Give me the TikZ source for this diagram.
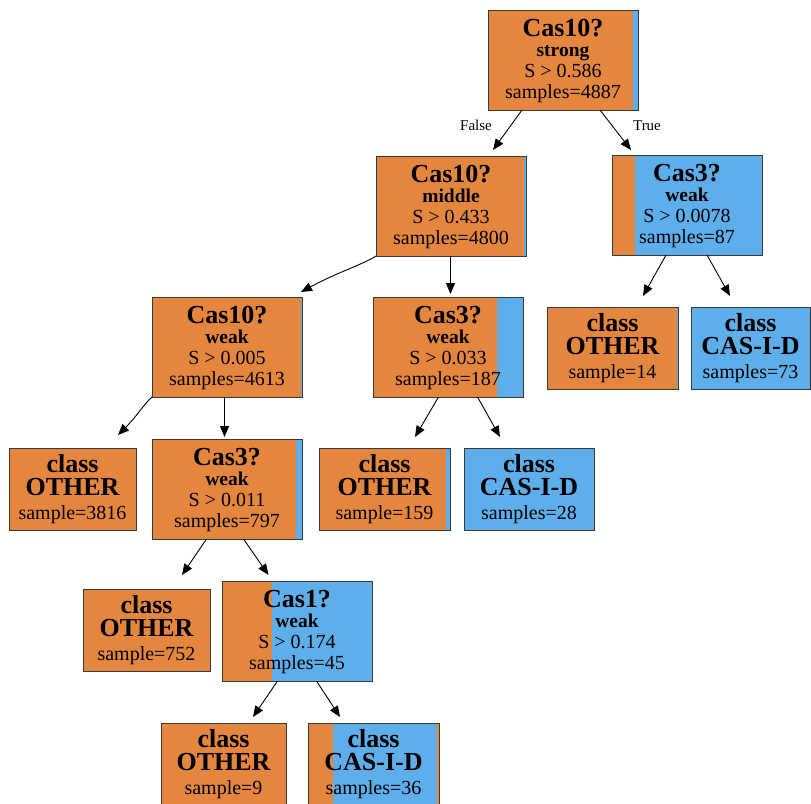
\documentclass[tikz,border=0pt]{standalone}
\usepackage{fontspec}
\setmainfont{Liberation Serif}
\usetikzlibrary{arrows.meta,calc}
\definecolor{corange}{HTML}{E5863F}
\definecolor{cblue}{HTML}{5DAEEA}
\definecolor{boxline}{HTML}{3A3A3A}
\tikzset{
  box/.style={draw=boxline, line width=0.8pt, fill=corange, inner sep=0pt, outer sep=0pt, anchor=north west},
  blue from/.style={path picture={\fill[cblue] ($(path picture bounding box.south west)!#1!(path picture bounding box.south east)$) rectangle (path picture bounding box.north east);}},
  blue span/.style 2 args={path picture={\fill[cblue] ($(path picture bounding box.south west)!#1!(path picture bounding box.south east)$) rectangle ($(path picture bounding box.north west)!#2!(path picture bounding box.north east)$);}},
  dec/.style={box, minimum width=150pt, minimum height=100pt},
  leaf/.style={box, minimum height=82pt},
  ttl/.style={font=\fontsize{26}{26}\selectfont\bfseries, anchor=base, inner sep=0pt},
  sub/.style={font=\fontsize{19.5}{20}\selectfont\bfseries, anchor=base, inner sep=0pt},
  txt/.style={font=\fontsize{20}{20}\selectfont, anchor=base, inner sep=0pt},
  lbl/.style={font=\fontsize{15}{15}\selectfont, anchor=base, inner sep=0pt},
  arr/.style={-{Triangle[length=11pt,width=9pt]}, line width=0.9pt, black},
}
\begin{document}
\begin{tikzpicture}[x=1pt,y=-1pt]
\useasboundingbox (0,0) rectangle (811,803);
% ---------- boxes ----------
\node[dec, blue from=0.967] (r) at (488,10) {};
\node[dec, blue from=0.987] (m) at (376,156) {};
\node[dec, blue from=0.153] (t) at (612,155) {};
\node[dec, blue from=0.995] (w) at (152,297) {};
\node[dec, blue from=0.826] (c187) at (373,297) {};
\node[leaf, minimum width=131pt, blue from=0.99] (o14) at (547,307) {};
\node[leaf, minimum width=119pt, blue from=0] (c73) at (691,307) {};
\node[leaf, minimum width=127pt] (o3816) at (9,448) {};
\node[dec, blue from=0.96] (c797) at (152,439) {};
\node[leaf, minimum width=131pt, blue from=0.97] (o159) at (319,448) {};
\node[leaf, minimum width=130pt, blue from=0] (c28) at (464,448) {};
\node[leaf, minimum width=127pt] (o752) at (83,589) {};
\node[dec, blue from=0.336] (cas1) at (222,581) {};
\node[leaf, minimum width=125pt] (o9) at (161,723) {};
\node[leaf, minimum width=131pt, blue span={0.19}{0.985}] (c36) at (308,723) {};
% ---------- decision texts ----------
\node[ttl] (r1) at ([yshift=-26pt]r.north) {Cas10?};
\node[sub] (r2) at ([yshift=-46pt]r.north) {strong};
\node[txt] (r3) at ([yshift=-67pt]r.north) {S > 0.586};
\node[txt] (r4) at ([yshift=-88pt]r.north) {samples=4887};
\node[ttl] (m1) at ([yshift=-26pt]m.north) {Cas10?};
\node[sub] (m2) at ([yshift=-46pt]m.north) {middle};
\node[txt] (m3) at ([yshift=-67pt]m.north) {S > 0.433};
\node[txt] (m4) at ([yshift=-88pt]m.north) {samples=4800};
\node[ttl] (t1) at ([yshift=-26pt]t.north) {Cas3?};
\node[sub] (t2) at ([yshift=-46pt]t.north) {weak};
\node[txt] (t3) at ([yshift=-67pt]t.north) {S > 0.0078};
\node[txt] (t4) at ([yshift=-88pt]t.north) {samples=87};
\node[ttl] (w1) at ([yshift=-26pt]w.north) {Cas10?};
\node[sub] (w2) at ([yshift=-46pt]w.north) {weak};
\node[txt] (w3) at ([yshift=-67pt]w.north) {S > 0.005};
\node[txt] (w4) at ([yshift=-88pt]w.north) {samples=4613};
\node[ttl] (ca1) at ([yshift=-26pt]c187.north) {Cas3?};
\node[sub] (ca2) at ([yshift=-46pt]c187.north) {weak};
\node[txt] (ca3) at ([yshift=-67pt]c187.north) {S > 0.033};
\node[txt] (ca4) at ([yshift=-88pt]c187.north) {samples=187};
\node[ttl] (cb1) at ([yshift=-26pt]c797.north) {Cas3?};
\node[sub] (cb2) at ([yshift=-46pt]c797.north) {weak};
\node[txt] (cb3) at ([yshift=-67pt]c797.north) {S > 0.011};
\node[txt] (cb4) at ([yshift=-88pt]c797.north) {samples=797};
\node[ttl] (cc1) at ([yshift=-26pt]cas1.north) {Cas1?};
\node[sub] (cc2) at ([yshift=-46pt]cas1.north) {weak};
\node[txt] (cc3) at ([yshift=-67pt]cas1.north) {S > 0.174};
\node[txt] (cc4) at ([yshift=-88pt]cas1.north) {samples=45};
% ---------- leaf texts ----------
\foreach \n/\c/\s in {o14/OTHER/sample=14, c73/CAS-I-D/samples=73, o3816/OTHER/sample=3816,
  o159/OTHER/sample=159, c28/CAS-I-D/samples=28, o752/OTHER/sample=752,
  o9/OTHER/sample=9, c36/CAS-I-D/samples=36}{
  \node[ttl] (\n-a) at ([yshift=-24pt]\n.north) {class};
  \node[ttl] (\n-b) at ([yshift=-47pt]\n.north) {\c};
  \node[txt] (\n-c) at ([yshift=-71pt]\n.north) {\s};
}
% ---------- edges ----------
\draw[arr] ([xshift=-41pt]r.south) -- ([xshift=42pt,yshift=6pt]m.north);
\draw[arr] ([xshift=37pt]r.south) -- ([xshift=-56pt,yshift=5pt]t.north);
\node[lbl] (lf) at (476,130) {False};
\node[lbl] (lt) at (647,130) {True};
\draw[arr] (m.south west) .. controls ([xshift=-12pt,yshift=-8pt]m.south west) and ([xshift=-38pt,yshift=-16pt]m.south west) .. ([xshift=-75pt,yshift=-36pt]m.south west);
\draw[arr] ([xshift=-0.5pt]m.south) -- ([xshift=2.5pt,yshift=3pt]c187.north);
\draw[arr] (w.south west) .. controls ([xshift=-9pt,yshift=-8pt]w.south west) and ([xshift=-14pt,yshift=-18pt]w.south west) .. ([xshift=-34pt,yshift=-38pt]w.south west);
\draw[arr] ([xshift=-2.5pt]w.south) -- ([xshift=-2.5pt,yshift=2pt]c797.north);
\draw[arr] ([xshift=-9.5pt]c187.south) -- ([xshift=30.5pt,yshift=11pt]o159.north);
\draw[arr] ([xshift=29.5pt]c187.south) -- ([xshift=-29pt,yshift=11pt]c28.north);
\draw[arr] ([xshift=-20.5pt]c797.south) -- ([xshift=35.5pt,yshift=14pt]o752.north);
\draw[arr] ([xshift=16.5pt]c797.south) -- ([xshift=-28.5pt,yshift=6pt]cas1.north);
\draw[arr] ([xshift=-19.5pt]cas1.south) -- ([xshift=29.5pt,yshift=6pt]o9.north);
\draw[arr] ([xshift=19.5pt]cas1.south) -- ([xshift=-33.5pt,yshift=6pt]c36.north);
\draw[arr] ([xshift=-21pt]t.south) -- ([xshift=30.5pt,yshift=11pt]o14.north);
\draw[arr] ([xshift=20pt]t.south) -- ([xshift=-20.5pt,yshift=11pt]c73.north);
\end{tikzpicture}
\end{document}
